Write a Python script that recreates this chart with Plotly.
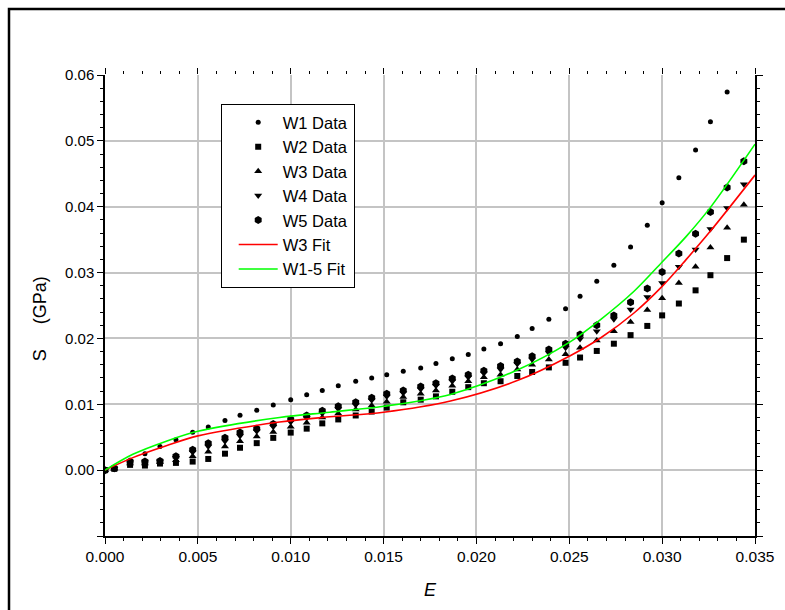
import plotly.graph_objects as go

# ---------------- data ----------------
strain = [0.0, 0.0005, 0.00135, 0.00215, 0.00296, 0.00382, 0.00472, 0.00556, 0.00646, 0.00727,
          0.00817, 0.00906, 0.0100, 0.01086, 0.0117, 0.01256, 0.0135, 0.01436, 0.01517, 0.01606,
          0.0170, 0.01782, 0.0187, 0.01956, 0.0204, 0.0213, 0.0222, 0.0230, 0.0239, 0.0248,
          0.02558, 0.02648, 0.0274, 0.0283, 0.0292, 0.0300, 0.0309, 0.0318, 0.0326, 0.0335, 0.0344]

w1 = [0.0, 0.0003, 0.0012, 0.0025, 0.0036, 0.0046, 0.00575, 0.00656, 0.00752, 0.00833,
      0.00909, 0.00988, 0.0107, 0.01145, 0.0121, 0.0128, 0.0135, 0.0140, 0.0145, 0.0150,
      0.0155, 0.0162, 0.0169, 0.01755, 0.0184, 0.0192, 0.0203, 0.0215, 0.0229, 0.0245,
      0.0264, 0.0287, 0.0311, 0.0339, 0.0372, 0.0406, 0.0444, 0.0486, 0.0529, 0.0574]

w2 = [0.0, 0.0002, 0.0008, 0.0007, 0.0010, 0.0011, 0.0013, 0.0017, 0.0025, 0.0034,
      0.0041, 0.0049, 0.0057, 0.0063, 0.0071, 0.0077, 0.0083, 0.0089, 0.0095, 0.0103,
      0.0107, 0.0112, 0.0119, 0.0126, 0.0132, 0.0135, 0.0143, 0.0149, 0.0156, 0.0163,
      0.0171, 0.0181, 0.0192, 0.0205, 0.0219, 0.0235, 0.0253, 0.0273, 0.0296, 0.0322, 0.0350]

w3 = [0.0, 0.0002, 0.0010, 0.0010, 0.0012, 0.0015, 0.0021, 0.0028, 0.0036, 0.0044,
      0.0051, 0.0058, 0.0066, 0.0072, 0.0080, 0.0086, 0.0092, 0.0098, 0.0104, 0.0111,
      0.0116, 0.0121, 0.0128, 0.0135, 0.0141, 0.0145, 0.0153, 0.0160, 0.0168, 0.0176,
      0.0186, 0.0197, 0.0211, 0.0225, 0.0243, 0.0261, 0.0284, 0.0309, 0.0338, 0.0368, 0.0403]

w4 = [0.0, 0.0002, 0.0012, 0.0012, 0.0013, 0.0019, 0.0027, 0.0036, 0.0044, 0.0052,
      0.0059, 0.0066, 0.0073, 0.0079, 0.0086, 0.0093, 0.0099, 0.0106, 0.0112, 0.0117,
      0.0123, 0.0128, 0.0135, 0.0141, 0.0147, 0.0153, 0.0161, 0.0168, 0.0178, 0.0186,
      0.0199, 0.0211, 0.0229, 0.0244, 0.0263, 0.0284, 0.0309, 0.0335, 0.0366, 0.0398, 0.0434]

w5 = [0.0, 0.0003, 0.0013, 0.0013, 0.0014, 0.0021, 0.0031, 0.0041, 0.0049, 0.0057,
      0.0063, 0.0070, 0.0077, 0.0083, 0.0090, 0.0097, 0.0103, 0.0110, 0.0116, 0.0121,
      0.0127, 0.0132, 0.0139, 0.0145, 0.0151, 0.0158, 0.0165, 0.0173, 0.0183, 0.0192,
      0.0206, 0.0220, 0.0235, 0.0255, 0.0276, 0.0301, 0.0329, 0.0359, 0.0392, 0.0429, 0.0469]

fit3_x = [0, 0.0015, 0.0033, 0.005, 0.0094, 0.0121, 0.015, 0.0186, 0.0222,
          0.025, 0.0267, 0.0285, 0.03, 0.0313, 0.0326, 0.035]
fit3_y = [0, 0.0019, 0.0037, 0.0052, 0.0073, 0.0081, 0.0088, 0.0105, 0.0136,
          0.0173, 0.0201, 0.0239, 0.0279, 0.0320, 0.0363, 0.0448]

fitall_x = [0, 0.0015, 0.0033, 0.005, 0.0094, 0.0121, 0.015, 0.0186, 0.0222,
            0.025, 0.0267, 0.0285, 0.03, 0.0313, 0.0326, 0.035]
fitall_y = [0, 0.0024, 0.0044, 0.0059, 0.0080, 0.0088, 0.0097, 0.0115, 0.0152,
            0.0194, 0.0229, 0.0272, 0.0316, 0.0355, 0.0399, 0.0495]

x_ticks = [0.0, 0.005, 0.010, 0.015, 0.020, 0.025, 0.030, 0.035]
x_ticktext = ["0.000", "0.005", "0.010", "0.015", "0.020", "0.025", "0.030", "0.035"]
y_ticks = [-0.01, 0.0, 0.01, 0.02, 0.03, 0.04, 0.05, 0.06]
y_ticktext = ["", "0.00", "0.01", "0.02", "0.03", "0.04", "0.05", "0.06"]

# ---------------- figure ----------------
FONT = "Arial, Liberation Sans, sans-serif"
fig = go.Figure()

series = [
    ("W1 Data", strain[:len(w1)], w1, "circle", 5),
    ("W2 Data", strain, w2, "square", 6),
    ("W3 Data", strain, w3, "triangle-up", 7),
    ("W4 Data", strain, w4, "triangle-down", 7),
    ("W5 Data", strain, w5, "hexagon", 8),
]
for name, xs, ys, sym, sz in series:
    fig.add_trace(go.Scatter(x=xs, y=ys, mode="markers", name=name,
                             marker=dict(symbol=sym, size=sz, color="black", line=dict(width=0))))

fig.add_trace(go.Scatter(x=fit3_x, y=fit3_y, mode="lines", name="W3 Fit",
                         line=dict(color="#ff0000", width=1.6, shape="spline", smoothing=0.9)))
fig.add_trace(go.Scatter(x=fitall_x, y=fitall_y, mode="lines", name="W1-5 Fit",
                         line=dict(color="#00ff00", width=1.6, shape="spline", smoothing=0.9)))

# invisible helpers for top / right tick axes
fig.add_trace(go.Scatter(x=[None], y=[None], xaxis="x2", yaxis="y", showlegend=False, hoverinfo="skip"))
fig.add_trace(go.Scatter(x=[None], y=[None], xaxis="x", yaxis="y2", showlegend=False, hoverinfo="skip"))

grid = "#c4c4c4"
minor_x = dict(tickmode="linear", tick0=0, dtick=0.001, ticks="outside",
               ticklen=3, tickwidth=1.2, tickcolor="black", showgrid=False)
minor_y = dict(tickmode="linear", tick0=0, dtick=0.002, ticks="outside",
               ticklen=3, tickwidth=1.2, tickcolor="black", showgrid=False)
fig.update_layout(
    width=785, height=610,
    margin=dict(l=105, r=30, t=75, b=74),
    paper_bgcolor="white", plot_bgcolor="white",
    font=dict(family=FONT, color="black", size=15),
    showlegend=True,
    legend=dict(x=0.178, y=0.937, xanchor="left", yanchor="top",
                bgcolor="white", bordercolor="black", borderwidth=1,
                font=dict(family=FONT, size=16.5, color="black"),
                tracegroupgap=0, indentation=12, itemwidth=39),
    xaxis=dict(range=[0, 0.035], tickmode="array", tickvals=x_ticks, ticktext=x_ticktext,
               showline=True, linecolor="black", linewidth=1.5,
               ticks="outside", ticklen=6, tickwidth=1.2, tickcolor="black",
               showgrid=True, gridcolor=grid, gridwidth=1.5, zeroline=False,
               minor=minor_x, tickfont=dict(size=15.5)),
    yaxis=dict(range=[-0.01, 0.06], tickmode="array", tickvals=y_ticks, ticktext=y_ticktext,
               showline=True, linecolor="black", linewidth=1.5,
               ticks="outside", ticklen=6, tickwidth=1.2, tickcolor="black",
               showgrid=True, gridcolor=grid, gridwidth=1.5, zeroline=False,
               minor=minor_y, tickfont=dict(size=15)),
    xaxis2=dict(range=[0, 0.035], overlaying="x", side="top", anchor="y",
                tickmode="array", tickvals=x_ticks, showticklabels=False,
                showline=False, showgrid=False, zeroline=False,
                ticks="outside", ticklen=6, tickwidth=1.2, tickcolor="black", minor=minor_x),
    yaxis2=dict(range=[-0.01, 0.06], overlaying="y", side="right", anchor="x",
                tickmode="array", tickvals=y_ticks, showticklabels=False,
                showline=True, linecolor="black", linewidth=1.5, showgrid=False, zeroline=False,
                ticks="outside", ticklen=6, tickwidth=1.2, tickcolor="black", minor=minor_y),
    annotations=[
        dict(text="S\u00a0\u00a0\u00a0\u00a0\u00a0(GPa)", textangle=-90, xref="paper", yref="paper",
             x=-0.1, y=0.47, xanchor="center", yanchor="middle", showarrow=False,
             font=dict(family=FONT, size=18, color="black")),
        dict(text="<i>E</i>", xref="paper", yref="paper", x=0.5, y=-0.117,
             xanchor="center", yanchor="middle", showarrow=False,
             font=dict(family=FONT, size=18, color="black")),
    ],
    shapes=[dict(type="rect", xref="paper", yref="paper",
                 x0=(9 - 105) / 650, x1=1.3, y0=-0.4, y1=(536 - 9) / 461,
                 line=dict(color="black", width=2.5), layer="below")],
)

fig.write_html("out.html")
